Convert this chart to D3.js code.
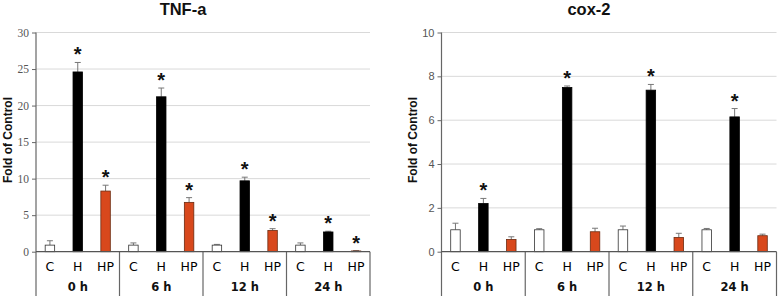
<!DOCTYPE html>
<html><head><meta charset="utf-8">
<script src="https://cdn.jsdelivr.net/npm/d3@7"></script>
<style>body{margin:0;background:#fff}svg{display:block}</style>
</head><body>
<svg id="c" width="778" height="298"></svg>
<script>
const groups = ["0 h", "6 h", "12 h", "24 h"];
const categories = ["C", "H", "HP"];

// TNF-a values [group][category]
const tnfValues = [[0.9, 24.6, 8.3], [0.9, 21.2, 6.75], [0.9, 9.7, 2.9], [0.9, 2.7, 0.1]];
const tnfErrors = [[0.6, 1.3, 0.8], [0.3, 1.2, 0.65], [0.1, 0.5, 0.25], [0.3, 0.1, 0.05]];
const tnfStars  = [[false, true, true], [false, true, true], [false, true, true], [false, true, true]];
const tnfTicks = [0, 5, 10, 15, 20, 25, 30];

// cox-2 values
const coxValues = [[1.0, 2.2, 0.56], [1.0, 7.49, 0.91], [1.0, 7.37, 0.65], [1.0, 6.15, 0.73]];
const coxErrors = [[0.3, 0.23, 0.12], [0.05, 0.07, 0.16], [0.17, 0.26, 0.19], [0.06, 0.38, 0.07]];
const coxStars  = [[false, true, false], [false, true, false], [false, true, false], [false, true, false]];
const coxTicks = [0, 2, 4, 6, 8, 10];

const fills = {C: "#ffffff", H: "#000000", HP: "#d8481c"};
const strokes = {C: "#333333", H: "#000000", HP: "#6b2a10"};

const svg = d3.select("#c");

function drawChart(opt) {
  const g = svg.append("g");
  const x0 = d3.scaleBand().domain(groups).range([opt.left, opt.right]).padding(0);
  const x1 = d3.scaleBand().domain(categories).range([0, x0.bandwidth()]).paddingInner(0.66).paddingOuter(0.33);
  const y = d3.scaleLinear().domain([0, opt.max]).range([251.7, 32.5]);

  // gridlines
  g.selectAll(".grid").data(opt.ticks.filter(t => t > 0)).join("line")
    .attr("x1", opt.left).attr("x2", opt.right)
    .attr("y1", d => y(d)).attr("y2", d => y(d))
    .attr("stroke", "#d9d9d9").attr("stroke-width", 1);

  // y axis
  const ax = g.append("g").attr("transform", `translate(${opt.left},0)`)
    .call(d3.axisLeft(y).tickValues(opt.ticks).tickSize(4).tickPadding(3));
  ax.select(".domain").remove();
  ax.selectAll(".tick line").attr("stroke", "#666");
  ax.selectAll(".tick text").attr("fill", "#555").style("font-family", opt.tickFont).style("font-size", opt.tickSize);

  // vertical axis line extending down, and separators
  const seps = groups.map(gr => x0(gr)).concat([opt.right]);
  g.selectAll(".sep").data(seps).join("line")
    .attr("x1", d => d).attr("x2", d => d)
    .attr("y1", (d, i) => i === 0 ? y(opt.max) : y(0)).attr("y2", 296)
    .attr("stroke", "#666").attr("stroke-width", 1.2);

  // bars
  const items = [];
  groups.forEach((gr, gi) => categories.forEach((c, ci) => {
    items.push({gr, c, v: opt.values[gi][ci], e: opt.errors[gi][ci], s: opt.stars[gi][ci]});
  }));
  const cx = d => x0(d.gr) + x1(d.c) + x1.bandwidth() / 2;

  // error bars
  g.selectAll(".err").data(items).join("path")
    .attr("d", d => `M${cx(d)},${y(d.v)}V${y(d.v + d.e)}M${cx(d) - 3},${y(d.v + d.e)}H${cx(d) + 3}`)
    .attr("stroke", "#777").attr("stroke-width", 1).attr("fill", "none");

  g.selectAll(".bar").data(items).join("rect")
    .attr("x", d => x0(d.gr) + x1(d.c)).attr("width", x1.bandwidth())
    .attr("y", d => y(d.v)).attr("height", d => y(0) - y(d.v))
    .attr("fill", d => fills[d.c]).attr("stroke", d => strokes[d.c]).attr("stroke-width", 0.8);

  // stars
  g.selectAll(".star").data(items.filter(d => d.s)).join("text")
    .attr("x", cx).attr("y", d => y(d.v + d.e) - 1)
    .attr("text-anchor", "middle").style("font-family", "Liberation Sans, Arial, sans-serif")
    .style("font-weight", "bold").style("font-size", "20px").attr("fill", "#111").text("*");

  // x axis line
  g.append("line").attr("x1", opt.left).attr("x2", opt.right).attr("y1", y(0)).attr("y2", y(0))
    .attr("stroke", "#555").attr("stroke-width", 1.2);

  // category labels
  g.selectAll(".cat").data(items).join("text")
    .attr("x", cx).attr("y", 270.5).attr("text-anchor", "middle")
    .style("font-family", "DejaVu Sans, Verdana, sans-serif").style("font-size", "12.5px").attr("fill", "#000")
    .text(d => d.c);

  // group labels
  g.selectAll(".grp").data(groups).join("text")
    .attr("x", d => x0(d) + x0.bandwidth() / 2).attr("y", 291).attr("text-anchor", "middle")
    .style("font-family", "DejaVu Sans, Verdana, sans-serif").style("font-size", "11.5px").style("font-weight", "bold")
    .attr("fill", "#111").text(d => d);

  // title
  g.append("text").attr("x", opt.titleX).attr("y", 15).attr("text-anchor", "middle")
    .style("font-family", "Liberation Sans, Arial, sans-serif").style("font-size", "16.5px").style("font-weight", "bold")
    .attr("fill", "#111").text(opt.title);

  // y label
  g.append("text").attr("transform", `translate(${opt.ylabX},140) rotate(-90)`).attr("text-anchor", "middle")
    .style("font-family", "Liberation Sans, Arial, sans-serif").style("font-size", "12px").style("font-weight", "bold")
    .attr("fill", "#111").text("Fold of Control");
}

drawChart({left: 36, right: 370, max: 30, ticks: tnfTicks, values: tnfValues, errors: tnfErrors, stars: tnfStars,
  title: "TNF-a", titleX: 183, ylabX: 12, tickFont: "Liberation Serif, Times New Roman, serif", tickSize: "11.5px"});
drawChart({left: 441.5, right: 776.5, max: 10, ticks: coxTicks, values: coxValues, errors: coxErrors, stars: coxStars,
  title: "cox-2", titleX: 589, ylabX: 417, tickFont: "Liberation Sans, Arial, sans-serif", tickSize: "11px"});
</script>
</body></html>
